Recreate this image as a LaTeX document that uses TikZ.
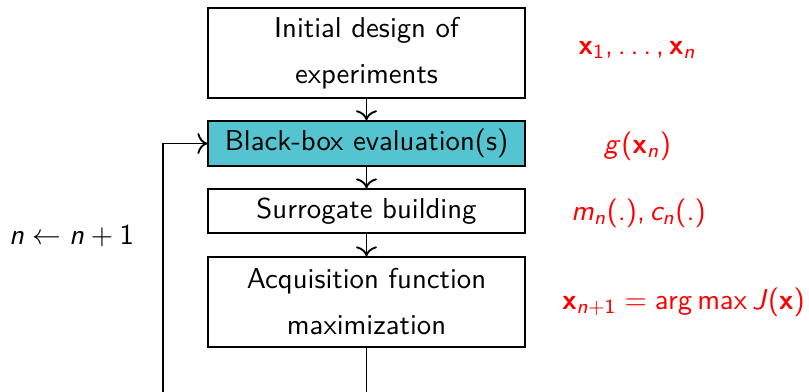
\documentclass[tikz,border=0pt]{standalone}
\usepackage{amsmath}
\usetikzlibrary{arrows.meta}
\definecolor{boxteal}{RGB}{84,197,208}

% a sans-serif math version built from the OT1 Computer Modern Sans fonts
\DeclareMathVersion{sfmath}
\SetSymbolFont{operators}{sfmath}{OT1}{cmss}{m}{n}
\SetSymbolFont{letters}{sfmath}{OT1}{cmss}{m}{sl}
\SetMathAlphabet{\mathbf}{sfmath}{OT1}{cmss}{bx}{n}
\newcommand{\sfmathon}{\mathversion{sfmath}%
  \mathcode`,="602C \mathcode`.="002E }
\newcommand{\sfdots}{\mathinner{\mathchar"602E\mathchar"602E\mathchar"602E}}

\begin{document}
\begin{tikzpicture}[x=0.348pt,y=-0.348pt,
  font=\sffamily\sfmathon,
  stepbox/.style={draw, line width=0.45pt, minimum width=110.3pt,
    inner sep=0pt, align=center},
  flow/.style={-{To[scale=1.15]}, line width=0.65pt},
  note/.style={text=red, inner sep=0pt}]
  \useasboundingbox (0,0) rectangle (809,392);
  \clip (0,0) rectangle (809,392);

  % main steps of the loop
  \node[stepbox, minimum height=31.3pt] (init) at (366.5,53)
    {Initial design of\\[4pt]experiments};
  \node[stepbox, fill=boxteal, minimum height=15.7pt] (eval) at (366.5,143.5)
    {Black-box evaluation(s)};
  \node[stepbox, minimum height=15.3pt] (surr) at (366.5,211)
    {Surrogate building};
  \node[stepbox, minimum height=31.3pt] (acq) at (366.5,302)
    {Acquisition function\\[4pt]maximization};

  \draw[flow] (init) -- (eval);
  \draw[flow] (eval) -- (surr);
  \draw[flow] (surr) -- (acq);

  % feedback path back to the evaluation step
  \coordinate (back) at (163,143.5);
  \draw[flow] (acq.south) -- ++(0,80) -| (back) -- (eval.west);

  % quantities produced at each step
  \node[note] (design) at (637.5,50) {$\mathbf{x}_1,\sfdots,\mathbf{x}_n$};
  \node[note] (obs) at (637.5,146) {$g(\mathbf{x}_n)$};
  \node[note] (model) at (638.5,213) {$m_n(.),c_n(.)$};
  \node[note] (next) at (683.5,302) {$\mathbf{x}_{n+1}=\arg\max J(\mathbf{x})$};
  \node[inner sep=0pt] (incr) at (71.5,236) {$n\leftarrow n+1$};
\end{tikzpicture}
\end{document}
